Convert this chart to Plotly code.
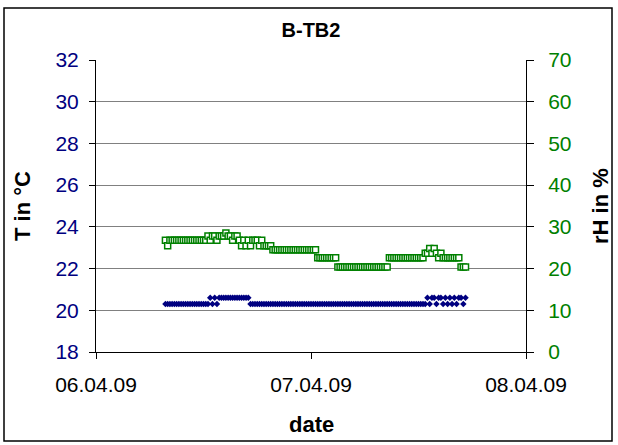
import pandas as pd
import plotly.graph_objects as go

# sampling times (every 15 minutes)
times = pd.date_range("2009-04-06 07:45", periods=135, freq="15min")

temperature = [
    20.3, 20.3, 20.3, 20.3, 20.3, 20.3, 20.3, 20.3, 20.3, 20.3,
    20.3, 20.3, 20.3, 20.3, 20.3, 20.3, 20.3, 20.3, 20.3, 20.3,
    20.6, 20.3, 20.6, 20.3, 20.6, 20.6, 20.6, 20.6, 20.6, 20.6,
    20.6, 20.6, 20.6, 20.6, 20.6, 20.6, 20.6, 20.6,
    20.3, 20.3, 20.3, 20.3, 20.3, 20.3, 20.3, 20.3, 20.3, 20.3,
    20.3, 20.3, 20.3, 20.3, 20.3, 20.3, 20.3, 20.3, 20.3, 20.3,
    20.3, 20.3, 20.3, 20.3, 20.3, 20.3, 20.3, 20.3, 20.3, 20.3,
    20.3, 20.3, 20.3, 20.3, 20.3, 20.3, 20.3, 20.3, 20.3, 20.3,
    20.3, 20.3, 20.3, 20.3, 20.3, 20.3, 20.3, 20.3, 20.3, 20.3,
    20.3, 20.3, 20.3, 20.3, 20.3, 20.3, 20.3, 20.3, 20.3, 20.3,
    20.3, 20.3, 20.3, 20.3, 20.3, 20.3, 20.3, 20.3, 20.3, 20.3,
    20.3, 20.3, 20.3, 20.3, 20.3, 20.3, 20.3, 20.3, 20.3,
    20.6, 20.3, 20.6, 20.6, 20.3, 20.6, 20.6, 20.3, 20.6, 20.3,
    20.6, 20.3, 20.6, 20.3, 20.6, 20.6, 20.3, 20.6,
]

humidity = [
    26.8, 25.5,
    26.8, 26.8, 26.8, 26.8, 26.8, 26.8, 26.8, 26.8,
    26.8, 26.8, 26.8, 26.8, 26.8, 26.8, 26.8, 26.8,
    26.8, 27.8, 26.8, 27.8, 27.8, 26.8, 27.8, 27.8, 27.8, 28.5,
    27.8, 27.8, 26.8, 27.8, 27.8,
    26.8, 25.5, 26.8, 25.5, 26.8, 25.5, 26.8, 26.8, 26.8, 25.5,
    26.8, 25.5, 25.5, 25.5, 25.5,
    24.5, 24.5, 24.5, 24.5, 24.5, 24.5, 24.5, 24.5, 24.5, 24.5,
    24.5, 24.5, 24.5, 24.5, 24.5, 24.5, 24.5, 24.5, 24.5, 24.5,
    22.6, 22.6, 22.6, 22.6, 22.6, 22.6, 22.6, 22.6, 22.6,
    20.4, 20.4, 20.4, 20.4, 20.4, 20.4, 20.4, 20.4, 20.4, 20.4,
    20.4, 20.4, 20.4, 20.4, 20.4, 20.4, 20.4, 20.4, 20.4, 20.4,
    20.4, 20.4, 20.4,
    22.6, 22.6, 22.6, 22.6, 22.6, 22.6, 22.6, 22.6, 22.6, 22.6,
    22.6, 22.6, 22.6, 22.6, 22.6, 22.6,
    23.7, 23.7, 24.8, 23.7, 24.8, 23.7, 22.6, 23.7, 22.6,
    22.6, 22.6, 22.6, 22.6, 22.6, 22.6, 22.6,
    20.4, 20.4, 20.4,
]

x_ticks = ["2009-04-06", "2009-04-07", "2009-04-08"]
x_tick_labels = ["06.04.09", "07.04.09", "08.04.09"]

NAVY = "#000080"
GREEN = "#008000"
FONT = "Liberation Sans, Arial, sans-serif"

fig = go.Figure()
fig.add_trace(go.Scatter(
    x=times, y=temperature, mode="markers", name="T",
    marker=dict(symbol="diamond", size=5, color=NAVY, line=dict(width=0)),
    yaxis="y",
))
fig.add_trace(go.Scatter(
    x=times, y=humidity, mode="markers", name="rH",
    marker=dict(symbol="square", size=6, color="white", line=dict(color=GREEN, width=1.5)),
    yaxis="y2",
))

fig.update_layout(
    width=618, height=445,
    margin=dict(l=96, r=92, t=60, b=93),
    paper_bgcolor="white", plot_bgcolor="white",
    showlegend=False,
    font=dict(family=FONT, color="black"),
    xaxis=dict(
        type="date", range=["2009-04-06", "2009-04-08"],
        tickvals=x_ticks, ticktext=x_tick_labels,
        showgrid=False, zeroline=False,
        showline=True, linecolor="black", linewidth=1,
        ticks="outside", ticklen=6, tickcolor="black",
        tickfont=dict(size=21, color="black"),
        ticklabelstandoff=8,
    ),
    yaxis=dict(
        range=[18, 32], dtick=2, tick0=18,
        showgrid=True, gridcolor="#808080", gridwidth=1,
        zeroline=False, showline=True, linecolor="black", linewidth=1,
        ticks="outside", ticklen=6, tickcolor="black",
        tickfont=dict(size=21, color=NAVY),
        ticklabelstandoff=6,
    ),
    yaxis2=dict(
        range=[0, 70], dtick=10, tick0=0,
        overlaying="y", side="right",
        showgrid=False, zeroline=False,
        showline=True, linecolor="black", linewidth=1,
        ticks="outside", ticklen=7, tickcolor="black",
        tickfont=dict(size=21, color=GREEN),
        ticklabelstandoff=10,
    ),
    title=dict(
        text="<b>B-TB2</b>", x=0.5, xref="paper", y=1 - 30 / 445, yanchor="middle",
        font=dict(size=20, color="black", family=FONT),
    ),
    annotations=[
        dict(text="<b>date</b>", x=0.5, xref="paper", y=-(424 - 352) / 292, yref="paper",
             showarrow=False, font=dict(size=22, color="black"), yanchor="middle"),
        dict(text="<b>T in °C</b>", x=-(96 - 22) / 430, xref="paper", y=0.5, yref="paper",
             showarrow=False, textangle=-90, font=dict(size=22, color="black"), xanchor="center"),
        dict(text="<b>rH in %</b>", x=1 + (600 - 526) / 430, xref="paper", y=0.5, yref="paper",
             showarrow=False, textangle=-90, font=dict(size=22, color="black"), xanchor="center"),
    ],
    shapes=[
        dict(type="rect", xref="paper", yref="paper",
             x0=-(96 - 4) / 430, x1=(612 - 96) / 430,
             y0=-(441 - 352) / 292, y1=(352 - 8) / 292,
             line=dict(color="black", width=1.5), fillcolor="rgba(0,0,0,0)", layer="below"),
    ],
)

fig.write_html("out.html", config={"displayModeBar": False},
               post_script="document.body.style.margin='0';")
